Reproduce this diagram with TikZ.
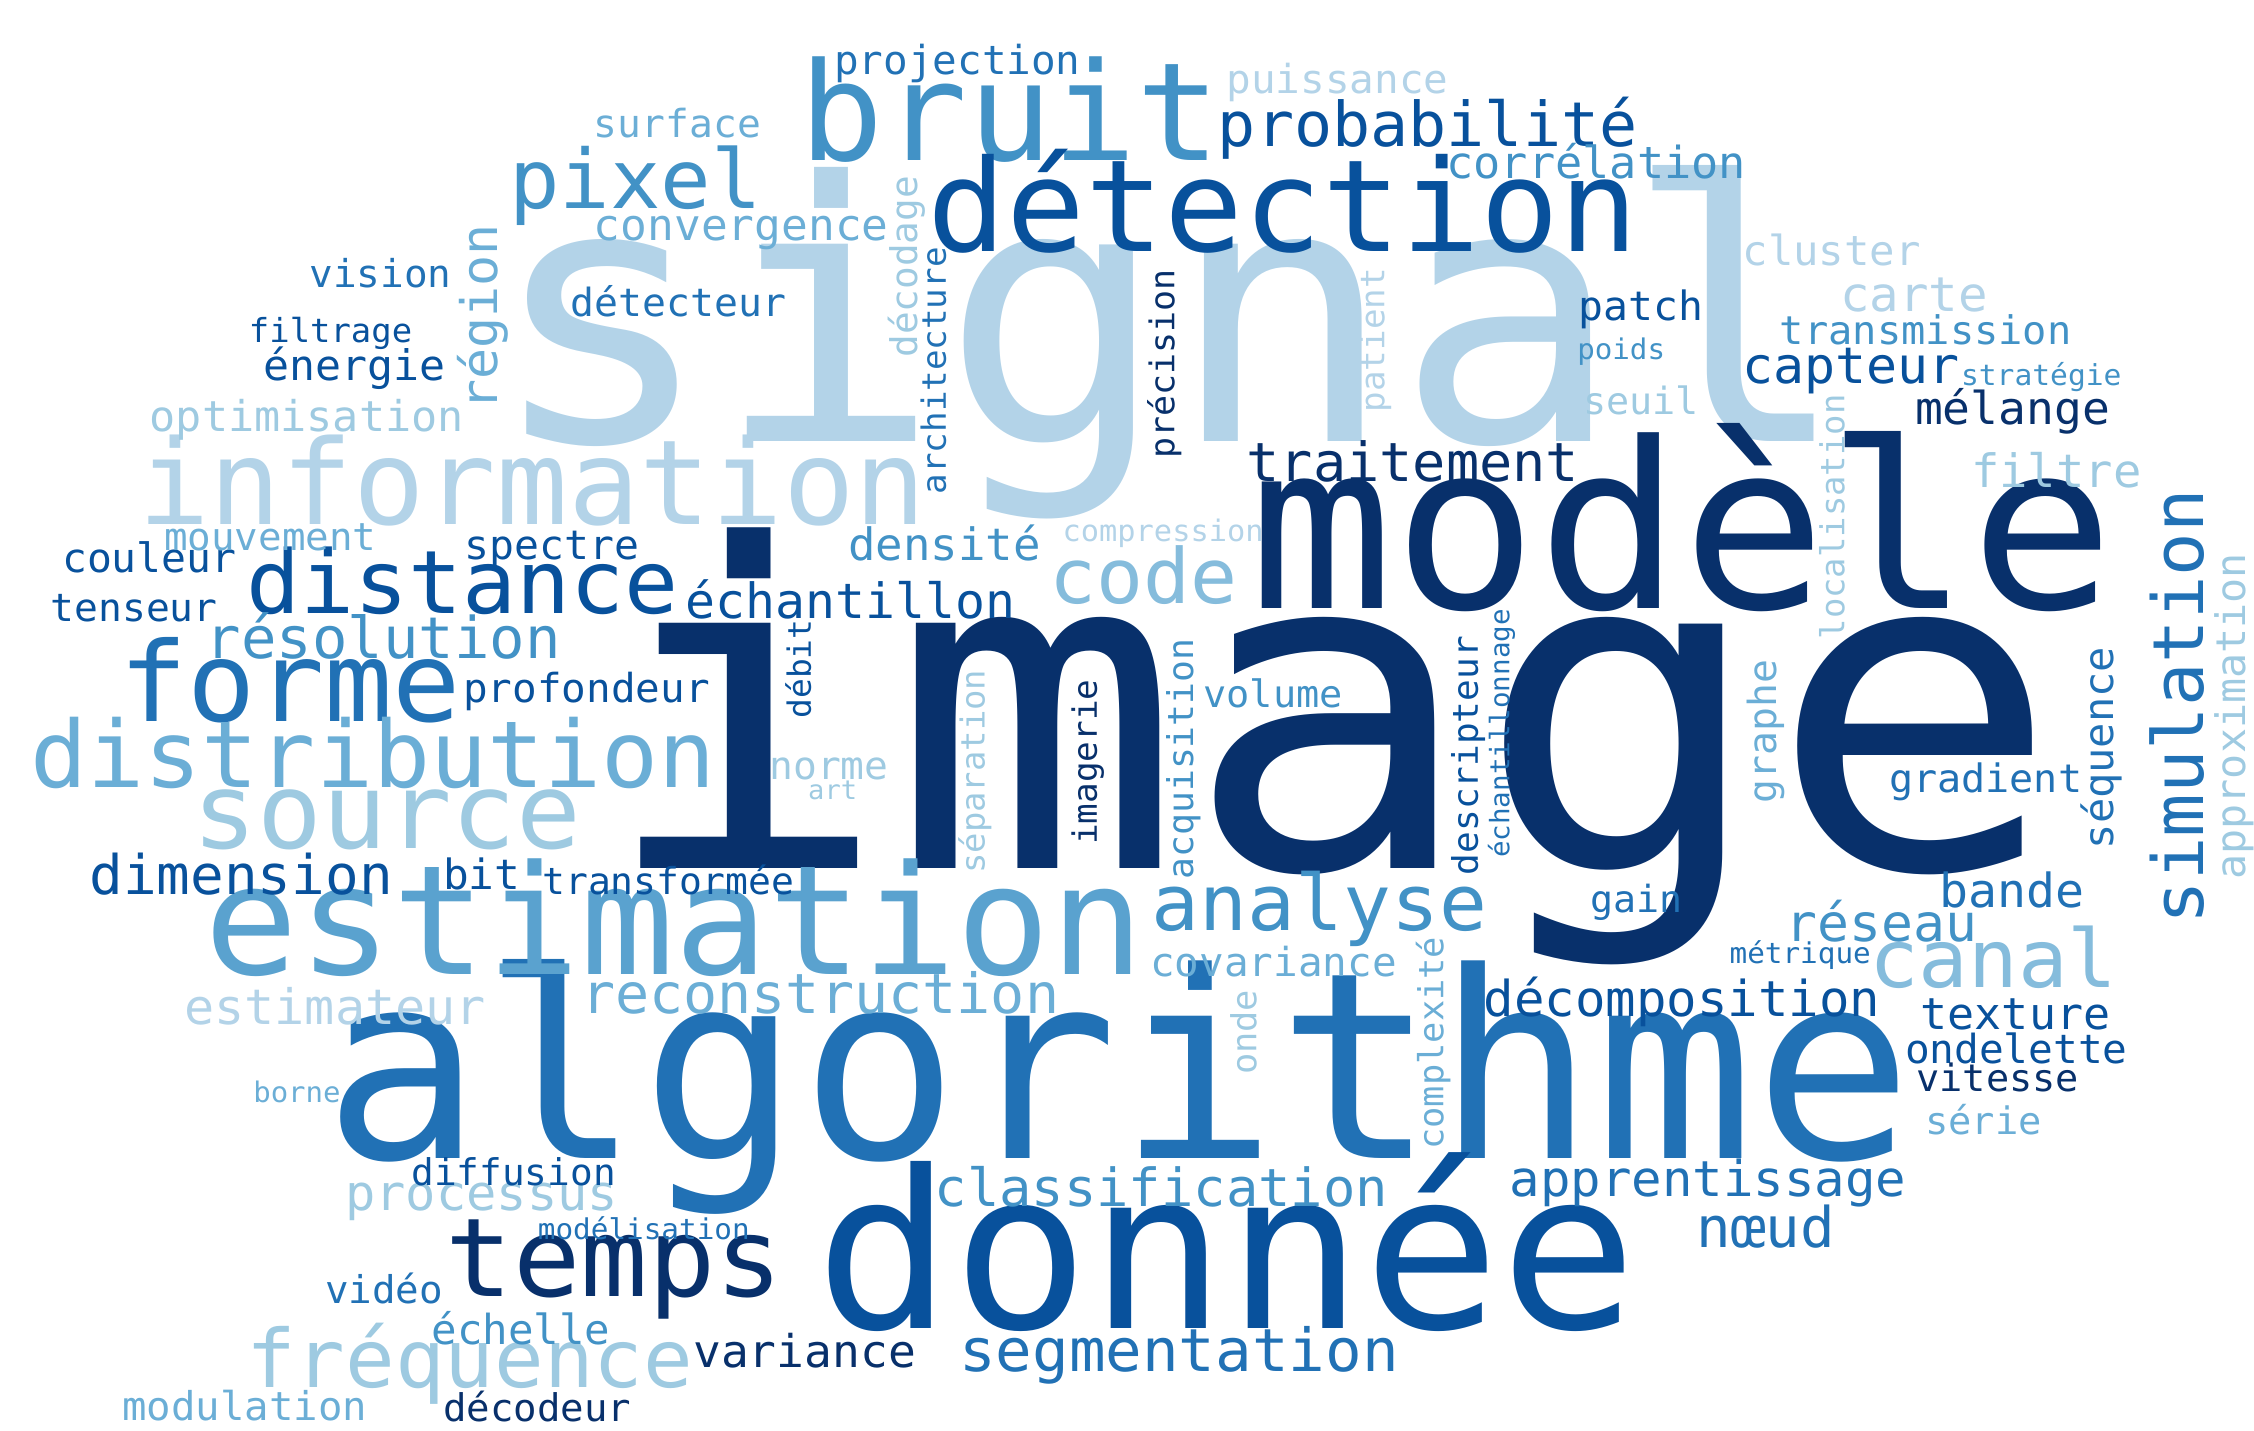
\documentclass[tikz,border=0pt]{standalone}
\usepackage{fontspec}
\setmainfont{DejaVu Sans Mono}
\usepackage{tikz}

\definecolor{navy}{HTML}{08306B}
\definecolor{dblue}{HTML}{08519C}
\definecolor{mblue}{HTML}{2171B5}
\definecolor{bblue}{HTML}{4292C6}
\definecolor{eblue}{HTML}{5AA2CF}
\definecolor{lblue}{HTML}{6BAED6}
\definecolor{cblue}{HTML}{85BCDC}
\definecolor{pblue}{HTML}{9ECAE1}
\definecolor{sblue}{HTML}{B3D3E8}

\newcommand{\wsize}[1]{\fontsize{#1}{#1}\selectfont}

\begin{document}
\begin{tikzpicture}[
        x=1pt, y=-1pt,
        word/.style={
            inner sep=0pt,
            anchor=base west,
            xscale=1.025
        },
        vword/.style={
            rotate=90,
            word
        }
    ]

    \useasboundingbox (0,0) rectangle (1568,995);

    % largest words
    \node[word, xscale=1.02, sblue, font=\wsize{251}] (signal) at (339,307) {signal};
    \node[word, xscale=1.057, navy, font=\wsize{312}] (image) at (416,604) {image};
    \node[word, xscale=1.01, navy, font=\wsize{161}] (modele) at (869,423) {modèle};
    \node[word, xscale=0.99, mblue, font=\wsize{181}] (algorithme) at (225,806) {algorithme};
    \node[word, xscale=1.01, dblue, font=\wsize{153}] (donnee) at (567,924) {donnée};
    \node[word, eblue, font=\wsize{106}] (estimation) at (142,678) {estimation};
    \node[word, bblue, font=\wsize{95}] (bruit) at (556,112) {bruit};
    \node[word, dblue, font=\wsize{89}] (detection) at (645,175) {détection};
    \node[word, xscale=0.985, sblue, font=\wsize{82}] (information) at (96,365) {information};
    \node[word, mblue, font=\wsize{77}] (forme) at (83,502) {forme};
    \node[word, navy, font=\wsize{76}] (temps) at (310,902) {temps};
    \node[word, pblue, font=\wsize{73}] (source) at (134,590) {source};
    \node[word, lblue, font=\wsize{64.4}] (distribution) at (21,548) {distribution};
    \node[word, dblue, font=\wsize{61}] (distance) at (171,427) {distance};
    \node[word, bblue, font=\wsize{57}] (pixel) at (354,145) {pixel};
    \node[word, pblue, font=\wsize{56}] (frequence) at (171,965) {fréquence};
    \node[word, cblue, font=\wsize{56}] (canal) at (1300,687) {canal};
    \node[word, bblue, font=\wsize{54}] (analyse) at (801,647) {analyse};
    \node[word, cblue, font=\wsize{53}] (code) at (730,420) {code};
    \node[vword, mblue, font=\wsize{49}] (simulation) at (1533,643) {simulation};

    % medium words
    \node[word, dblue, font=\wsize{43}] (probabilite) at (847,102) {probabilité};
    \node[word, mblue, font=\wsize{41.3}] (segmentation) at (667,954) {segmentation};
    \node[word, bblue, font=\wsize{40}] (resolution) at (143,458) {résolution};
    \node[word, lblue, font=\wsize{38.5}] (reconstruction) at (404,705) {reconstruction};
    \node[word, mblue, font=\wsize{39}] (noeud) at (1180,868) {nœud};
    \node[word, navy, font=\wsize{37.5}] (traitement) at (867,335) {traitement};
    \node[word, dblue, font=\wsize{38}] (dimension) at (62,622) {dimension};
    \node[word, bblue, font=\wsize{36}] (reseau) at (1242,655) {réseau};
    \node[word, bblue, font=\wsize{36.5}] (classification) at (650,839) {classification};
    \node[word, dblue, font=\wsize{35}] (capteur) at (1212,267) {capteur};
    \node[word, dblue, font=\wsize{34.4}] (decomposition) at (1032,707) {décomposition};
    \node[word, mblue, font=\wsize{34.4}] (apprentissage) at (1050,832) {apprentissage};
    \node[word, pblue, font=\wsize{34.2}] (processus) at (240,842) {processus};
    \node[word, sblue, font=\wsize{34}] (estimateur) at (128,713) {estimateur};
    \node[word, dblue, font=\wsize{33.8}] (echantillon) at (477,430) {échantillon};
    \node[word, sblue, font=\wsize{33.3}] (carte) at (1280,217) {carte};
    \node[word, mblue, font=\wsize{32.7}] (bande) at (1349,631) {bande};
    \node[word, pblue, font=\wsize{32}] (filtre) at (1371,339) {filtre};
    \node[word, navy, font=\wsize{31.4}] (melange) at (1332,295) {mélange};
    \node[word, navy, font=\wsize{31.4}] (variance) at (482,951) {variance};
    \node[word, bblue, font=\wsize{31}] (densite) at (590,390) {densité};
    \node[word, bblue, font=\wsize{30.7}] (correlation) at (1006,124) {corrélation};
    \node[word, dblue, font=\wsize{30.5}] (texture) at (1336,716) {texture};
    \node[word, lblue, font=\wsize{30.2}] (convergence) at (413,167) {convergence};
    \node[word, pblue, font=\wsize{29.5}] (optimisation) at (104,300) {optimisation};
    \node[word, dblue, font=\wsize{29.3}] (energie) at (183,265) {énergie};
    \node[word, dblue, font=\wsize{29}] (bit) at (308,619) {bit};
    \node[word, bblue, font=\wsize{28.8}] (echelle) at (300,935) {échelle};
    \node[word, sblue, font=\wsize{28.7}] (cluster) at (1212,185) {cluster};
    \node[vword, pblue, font=\wsize{28.3}] (approximation) at (1562,612) {approximation};
    \node[vword, mblue, font=\wsize{28.5}] (sequence) at (1470,591) {séquence};
    \node[vword, lblue, font=\wsize{35}] (region) at (346,286) {région};

    % small words
    \node[word, dblue, font=\wsize{28.1}] (couleur) at (43,398) {couleur};
    \node[word, dblue, font=\wsize{28.1}] (spectre) at (323,389) {spectre};
    \node[word, dblue, font=\wsize{28.1}] (patch) at (1098,223) {patch};
    \node[word, dblue, font=\wsize{27.9}] (ondelette) at (1325,740) {ondelette};
    \node[word, dblue, font=\wsize{27.8}] (profondeur) at (322,489) {profondeur};
    \node[word, mblue, font=\wsize{27.8}] (projection) at (580,52) {projection};
    \node[word, sblue, font=\wsize{27.8}] (puissance) at (853,65) {puissance};
    \node[word, lblue, font=\wsize{27.8}] (covariance) at (800,679) {covariance};
    \node[word, lblue, font=\wsize{27.6}] (modulation) at (85,988) {modulation};
    \node[word, bblue, font=\wsize{27.4}] (transmission) at (1238,240) {transmission};
    \node[word, mblue, font=\wsize{27.2}] (gradient) at (1314,551) {gradient};
    \node[word, mblue, font=\wsize{27}] (detecteur) at (397,220) {détecteur};
    \node[word, pblue, font=\wsize{26.9}] (norme) at (535,542) {norme};
    \node[word, lblue, font=\wsize{26.9}] (surface) at (413,96) {surface};
    \node[word, dblue, font=\wsize{26.9}] (tenseur) at (35,432) {tenseur};
    \node[word, mblue, font=\wsize{26.7}] (vision) at (215,200) {vision};
    \node[word, mblue, font=\wsize{26.6}] (video) at (226,907) {vidéo};
    \node[word, lblue, font=\wsize{26.6}] (mouvement) at (114,383) {mouvement};
    \node[word, navy, font=\wsize{26.5}] (decodeur) at (308,989) {décodeur};
    \node[word, lblue, font=\wsize{26.3}] (serie) at (1339,789) {série};
    \node[word, navy, font=\wsize{26.2}] (vitesse) at (1333,759) {vitesse};
    \node[word, bblue, font=\wsize{26.2}] (volume) at (837,492) {volume};
    \node[word, pblue, font=\wsize{26.1}] (seuil) at (1101,288) {seuil};
    \node[word, mblue, font=\wsize{26}] (gain) at (1106,635) {gain};
    \node[word, dblue, font=\wsize{25.8}] (transformee) at (377,622) {transformée};
    \node[word, dblue, font=\wsize{25.6}] (diffusion) at (286,825) {diffusion};
    \node[word, dblue, font=\wsize{23}] (filtrage) at (173,238) {filtrage};
    \node[word, sblue, font=\wsize{20.6}] (compression) at (739,377) {compression};
    \node[word, bblue, font=\wsize{20.1}] (strategie) at (1364,268) {stratégie};
    \node[word, mblue, font=\wsize{19.9}] (modelisation) at (374,862) {modélisation};
    \node[word, mblue, font=\wsize{19.9}] (metrique) at (1203,670) {métrique};
    \node[word, bblue, font=\wsize{19.8}] (poids) at (1097,250) {poids};
    \node[word, lblue, font=\wsize{19.7}] (borne) at (176,767) {borne};
    \node[word, pblue, font=\wsize{18.4}] (art) at (562,556) {art};

    % vertical words
    \node[vword, pblue, font=\wsize{25.6}] (decodage) at (638,249) {décodage};
    \node[vword, mblue, font=\wsize{23.2}] (architecture) at (658,344) {architecture};
    \node[vword, navy, font=\wsize{23.7}] (precision) at (817,319) {précision};
    \node[vword, sblue, font=\wsize{23.2}] (patient) at (963,287) {patient};
    \node[vword, pblue, font=\wsize{23}] (localisation) at (1283,445) {localisation};
    \node[vword, lblue, font=\wsize{27}] (graphe) at (1236,559) {graphe};
    \node[vword, dblue, font=\wsize{24.5}] (descripteur) at (1028,609) {descripteur};
    \node[vword, mblue, font=\wsize{18.7}] (echantillonnage) at (1050,597) {échantillonnage};
    \node[vword, bblue, font=\wsize{24.7}] (acquisition) at (830,612) {acquisition};
    \node[vword, navy, font=\wsize{23.3}] (imagerie) at (763,588) {imagerie};
    \node[vword, pblue, font=\wsize{23}] (separation) at (685,608) {séparation};
    \node[vword, dblue, font=\wsize{22.3}] (debit) at (564,500) {débit};
    \node[vword, pblue, font=\wsize{24}] (onde) at (874,748) {onde};
    \node[vword, lblue, font=\wsize{24}] (complexite) at (1004,800) {complexité};

\end{tikzpicture}
\end{document}
